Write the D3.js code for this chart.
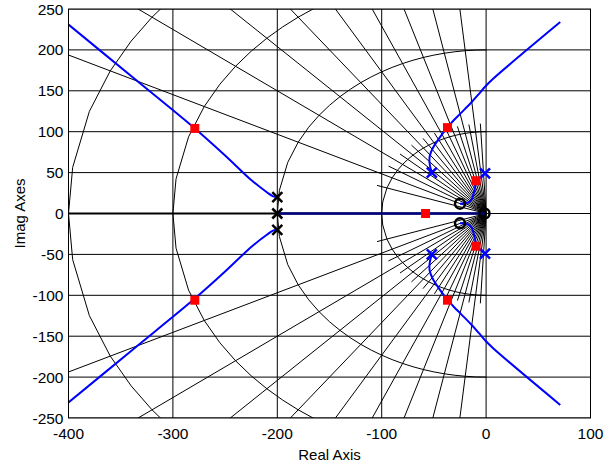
<!DOCTYPE html>
<html><head><meta charset="utf-8">
<script src="https://cdn.jsdelivr.net/npm/d3@7"></script>
<style>
html,body{margin:0;padding:0;background:#fff;}
text{font-family:"Liberation Sans",Arial,Helvetica,sans-serif;fill:#000;}
</style></head>
<body>
<svg id="chart" width="615" height="465"></svg>
<script>
// ---- data ----
const xTicks = [-400, -300, -200, -100, 0, 100];
const yTicks = [-250, -200, -150, -100, -50, 0, 50, 100, 150, 200, 250];
const zetaMajor = [0.1, 0.2, 0.3, 0.4, 0.5, 0.6, 0.7, 0.8, 0.9];
const zetaMinor = [0.05, 0.15, 0.25, 0.35, 0.45, 0.55, 0.65, 0.75, 0.85, 0.95];
const zetaArcVertices = [0, 0.05, 0.1, 0.15, 0.2, 0.25, 0.3, 0.35, 0.4, 0.45, 0.5, 0.55, 0.6, 0.65, 0.7, 0.75, 0.8, 0.85, 0.9, 0.95, 0.99, 1];
const wnCircles = [100, 200, 300, 400];
const minorRayLength = 110;

const branchUpperLeft = [[-400,231],[-340,168],[-279,104],[-250,71],[-225,41],[-210,26],[-204,21],[-200,20]];
const branchLowerLeft = [[-400,-231],[-340,-168],[-279,-104],[-250,-71],[-225,-41],[-210,-26],[-204,-21],[-200,-20]];
const branchRealAxis = [[-200,0],[-1.5,0]];
const branchUpperRight = [[-52,50],[-54,60],[-54,70],[-51,80],[-46,90],[-41,99],[-37,105],[-31,114],[-24,123],[-14,136],[-7,146],[-1,155],[7,165],[71,234]];
const branchLowerRight = [[-52,-50],[-54,-60],[-54,-70],[-51,-80],[-46,-90],[-41,-99],[-37,-105],[-31,-114],[-24,-123],[-14,-136],[-7,-146],[-1,-155],[7,-165],[71,-234]];
const branchUpperSmall = [[-1,49],[-4,46],[-8,42],[-9.6,40],[-10.5,32],[-12,24],[-14,17],[-18,13],[-25,12]];
const branchLowerSmall = [[-1,-49],[-4,-46],[-8,-42],[-9.6,-40],[-10.5,-32],[-12,-24],[-14,-17],[-18,-13],[-25,-12]];

const polesBlack = [[-200,20],[-200,0],[-200,-20]];
const polesBlue = [[-52,50],[-52,-50],[-1,49],[-1,-49]];
const zerosBlack = [[-25,12],[-25,-12],[-1.5,0]];
const closedLoopPoles = [[-279,104],[-279,-106],[-58,0],[-37,105],[-37,-106],[-9.6,40],[-9.6,-40]];

// ---- layout ----
const W = 615, H = 465;
const m = {left: 68.5, right: 24.5, top: 9, bottom: 47};
const svg = d3.select("#chart");
const x = d3.scaleLinear().domain([-400, 100]).range([m.left, W - m.right]);
const y = d3.scaleLinear().domain([-250, 250]).range([H - m.bottom, m.top]);

svg.append("defs").append("clipPath").attr("id","clip")
  .append("rect").attr("x", x(-400)).attr("y", y(250))
  .attr("width", x(100)-x(-400)).attr("height", y(-250)-y(250));

const plot = svg.append("g").attr("clip-path","url(#clip)");

// grid
plot.selectAll(".vg").data(xTicks).join("line")
  .attr("x1", d=>x(d)).attr("x2", d=>x(d)).attr("y1", y(-250)).attr("y2", y(250))
  .attr("stroke","#000").attr("stroke-width",1);
plot.selectAll(".hg").data(yTicks).join("line")
  .attr("y1", d=>y(d)).attr("y2", d=>y(d)).attr("x1", x(-400)).attr("x2", x(100))
  .attr("stroke","#000").attr("stroke-width",1);

// damping rays
function ray(z, len, sign){
  const th = Math.acos(z);
  return [[0,0],[-len*Math.cos(th), sign*len*Math.sin(th)]];
}
const line = d3.line().x(d=>x(d[0])).y(d=>y(d[1]));
[1,-1].forEach(s=>{
  zetaMajor.forEach(z=>{
    plot.append("path").attr("d", line(ray(z, 800, s))).attr("fill","none").attr("stroke","#000").attr("stroke-width",1);
  });
  zetaMinor.forEach(z=>{
    plot.append("path").attr("d", line(ray(z, minorRayLength, s))).attr("fill","none").attr("stroke","#000").attr("stroke-width",1);
  });
});
// natural frequency arcs
wnCircles.forEach(r=>{
  const pts = zetaArcVertices.map(z=>[-r*z, r*Math.sqrt(1-z*z)])
    .concat(zetaArcVertices.slice().reverse().slice(1).map(z=>[-r*z, -r*Math.sqrt(1-z*z)]));
  plot.append("path").attr("d", line(pts)).attr("fill","none").attr("stroke","#000").attr("stroke-width",1);
});
// zeta = 1 line on the real axis
plot.append("path").attr("d", line([[-400,0],[0,0]])).attr("fill","none").attr("stroke","#000").attr("stroke-width",1.8);

// locus branches
const branches = [branchUpperLeft, branchLowerLeft, branchUpperRight, branchLowerRight, branchUpperSmall, branchLowerSmall];
const smooth = d3.line().x(d=>x(d[0])).y(d=>y(d[1])).curve(d3.curveCatmullRom);
branches.forEach(b=>{
  plot.append("path").attr("d", smooth(b)).attr("fill","none").attr("stroke","#0000ff").attr("stroke-width",2);
});
plot.append("path").attr("d", line(branchRealAxis)).attr("fill","none").attr("stroke","#000080").attr("stroke-width",2.5);

// markers
const xs = 5;
function cross(g, p, color){
  const cx = x(p[0]), cy = y(p[1]);
  g.append("path").attr("d", `M${cx-xs},${cy-xs}L${cx+xs},${cy+xs}M${cx-xs},${cy+xs}L${cx+xs},${cy-xs}`)
    .attr("stroke", color).attr("stroke-width", 2.5).attr("fill","none");
}
polesBlack.forEach(p=>cross(plot, p, "#000"));
polesBlue.forEach(p=>cross(plot, p, "#0000ff"));
plot.selectAll(".zero").data(zerosBlack).join("circle")
  .attr("cx", d=>x(d[0])).attr("cy", d=>y(d[1])).attr("r", 5)
  .attr("fill","none").attr("stroke","#000").attr("stroke-width",2.5);
plot.selectAll(".clp").data(closedLoopPoles).join("rect")
  .attr("x", d=>x(d[0])-4.5).attr("y", d=>y(d[1])-4.5).attr("width",9).attr("height",9)
  .attr("fill","#ff0000");

// frame
svg.append("rect").attr("x", x(-400)).attr("y", y(250))
  .attr("width", x(100)-x(-400)).attr("height", y(-250)-y(250))
  .attr("fill","none").attr("stroke","#000").attr("stroke-width",1);

// tick labels
svg.selectAll(".xt").data(xTicks).join("text")
  .attr("x", d=>x(d)).attr("y", y(-250)+21).attr("text-anchor","middle")
  .attr("font-size", 15.5).text(d=>d);
svg.selectAll(".yt").data(yTicks).join("text")
  .attr("x", x(-400)-5).attr("y", d=>y(d)+5.5).attr("text-anchor","end")
  .attr("font-size", 15.5).text(d=>d);

// axis labels
svg.append("text").attr("x", (x(-400)+x(100))/2).attr("y", 460).attr("text-anchor","middle")
  .attr("font-size", 15).text("Real Axis");
svg.append("text").attr("transform", `translate(25,${y(0)}) rotate(-90)`).attr("text-anchor","middle")
  .attr("font-size", 15).text("Imag Axes");
</script>
</body></html>
